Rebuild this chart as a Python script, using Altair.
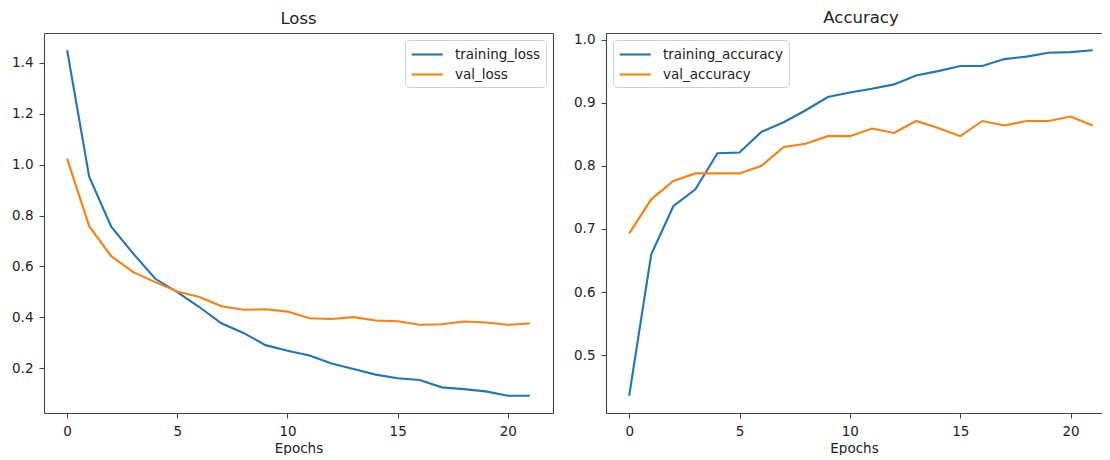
import altair as alt
import pandas as pd

epochs = list(range(22))
training_loss = [1.45, 0.953, 0.756, 0.65, 0.551, 0.499, 0.44, 0.376, 0.338, 0.29, 0.268,
                 0.249, 0.218, 0.196, 0.174, 0.16, 0.153, 0.124, 0.117, 0.108, 0.091, 0.091]
val_loss = [1.024, 0.758, 0.64, 0.577, 0.538, 0.501, 0.479, 0.443, 0.429, 0.431, 0.422,
            0.396, 0.393, 0.40, 0.387, 0.384, 0.37, 0.372, 0.383, 0.379, 0.37, 0.375]
training_accuracy = [0.436, 0.66, 0.736, 0.763, 0.82, 0.821, 0.854, 0.869, 0.888, 0.909, 0.916,
                     0.922, 0.929, 0.943, 0.95, 0.958, 0.958, 0.969, 0.973, 0.979, 0.98, 0.983]
val_accuracy = [0.693, 0.747, 0.776, 0.788, 0.788, 0.788, 0.80, 0.83, 0.835, 0.847, 0.847,
                0.859, 0.852, 0.871, 0.86, 0.847, 0.871, 0.864, 0.871, 0.871, 0.878, 0.864]

loss_names = ["training_loss", "val_loss"]
acc_names = ["training_accuracy", "val_accuracy"]
x_ticks = [0, 5, 10, 15, 20]
loss_ticks = [0.2, 0.4, 0.6, 0.8, 1.0, 1.2, 1.4]
acc_ticks = [0.5, 0.6, 0.7, 0.8, 0.9, 1.0]

BLUE = "#1f77b4"
ORANGE = "#ff7f0e"
FRAME = "#444444"
TEXT = "#222222"
FONT = "DejaVu Sans"


def margin_domain(a, b):
    lo = min(a + b)
    hi = max(a + b)
    m = (hi - lo) * 0.05
    return [lo - m, hi + m]


def panel(title, names, s1, s2, yticks, legend_orient, xmax, width, right_spine):
    df = pd.DataFrame({
        "epoch": epochs + epochs,
        "value": s1 + s2,
        "series": [names[0]] * len(epochs) + [names[1]] * len(epochs),
    })
    xs = alt.Scale(domain=[-1.05, xmax], nice=False, zero=False)
    ys = alt.Scale(domain=margin_domain(s1, s2), nice=False, zero=False)
    color = alt.Color(
        "series:N",
        scale=alt.Scale(domain=names, range=[BLUE, ORANGE]),
        legend=alt.Legend(
            title=None, orient=legend_orient, offset=7,
            fillColor="white", strokeColor="#d0d0d0", cornerRadius=4, padding=5.5,
            symbolType="M-1,0H3", symbolSize=240, symbolStrokeWidth=2.1,
            labelFont=FONT, labelFontSize=13.5, labelColor=TEXT, labelOffset=26.5,
            rowPadding=4,
        ),
    )
    base = alt.Chart(df)
    first = base.transform_filter(alt.datum.series == names[0]).mark_line(strokeWidth=2.1).encode(
        x=alt.X("epoch:Q", scale=xs,
                axis=alt.Axis(values=x_ticks, format="d", title="Epochs", labelFlush=False)),
        y=alt.Y("value:Q", scale=ys,
                axis=alt.Axis(values=yticks, format=".1f", title=None, minExtent=36)),
        color=color,
    )
    if right_spine:
        yax = alt.Axis(orient="right", labels=False, ticks=False, domain=True, title=None,
                       grid=False, minExtent=0)
    else:
        yax = None
    second = base.transform_filter(alt.datum.series == names[1]).mark_line(strokeWidth=2.1).encode(
        x=alt.X("epoch:Q", scale=xs,
                axis=alt.Axis(orient="top", labels=False, ticks=False, domain=True, title=None,
                              grid=False, minExtent=0)),
        y=alt.Y("value:Q", scale=ys, axis=yax),
        color=color,
    )
    return alt.layer(first, second).resolve_axis(x="independent", y="independent").properties(
        title=title, width=width, height=380)


left = panel(alt.TitleParams("Loss"), loss_names, training_loss, val_loss, loss_ticks,
             "top-right", 22.05, 509, True)
right = panel(alt.TitleParams("Accuracy", dx=7), acc_names, training_accuracy, val_accuracy,
              acc_ticks, "top-left", -1.05 + 496 / 22.07, 496, False)

chart = alt.hconcat(left, right, spacing=17).resolve_scale(color="independent").properties(
    padding={"top": 2, "left": 0, "right": 0, "bottom": 0}
).configure_view(stroke=None).configure_axis(
    labelFont=FONT, labelFontSize=13.5, labelColor=TEXT, labelPadding=6,
    tickColor=FRAME, tickSize=5, tickWidth=1.1,
    domainColor=FRAME, domainWidth=1.1, grid=False,
    titleFont=FONT, titleFontSize=13.5, titleFontWeight="normal", titleColor=TEXT,
    titlePadding=4,
).configure_title(
    font=FONT, fontSize=16.5, fontWeight="normal", color=TEXT, offset=6, anchor="middle"
)

chart.save("out.html", embed_options={"renderer": "svg", "actions": False})
